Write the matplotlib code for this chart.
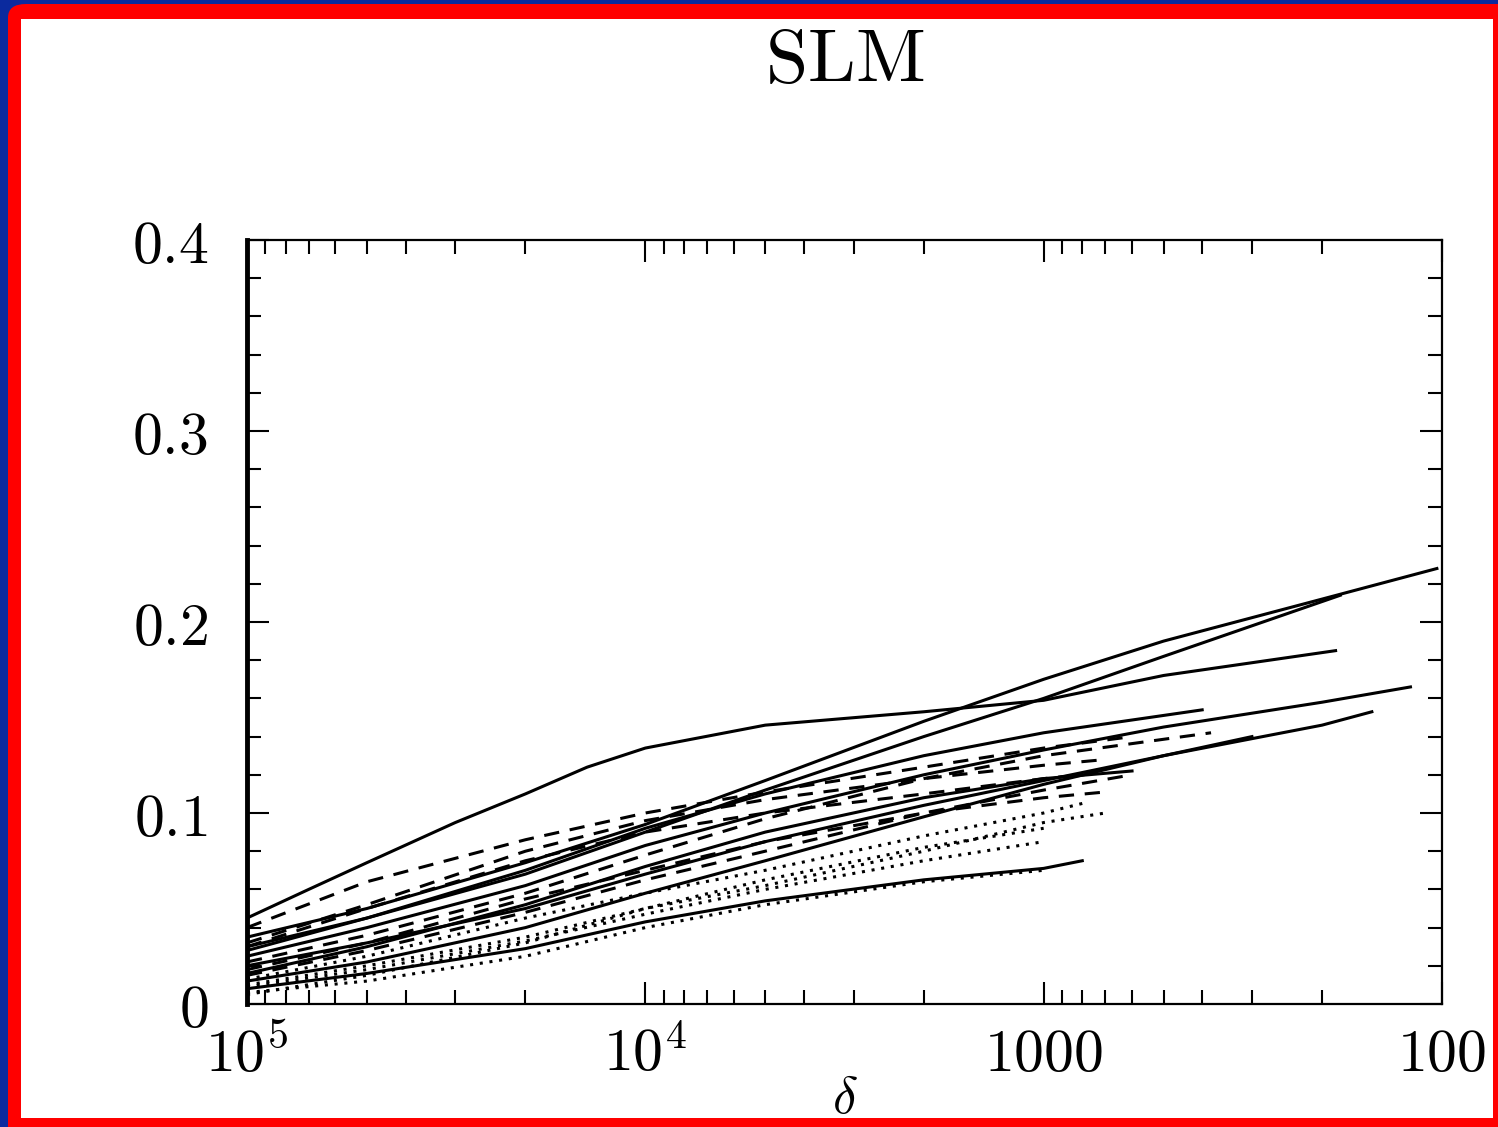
import numpy as np
import matplotlib.pyplot as plt
from matplotlib.patches import FancyBboxPatch, Rectangle

plt.rcParams['mathtext.fontset'] = 'cm'
plt.rcParams['font.family'] = ['DejaVu Serif']

# delta nodes and curve values
delta_A = [1e5, 7e4, 5e4, 3e4, 2e4, 1.4e4, 1e4, 5e3, 2e3, 1e3, 500, 185]
frac_A = [0.045, 0.060, 0.074, 0.095, 0.110, 0.124, 0.134, 0.146, 0.153, 0.159, 0.172, 0.185]

delta_B = [1e5, 5e4, 2e4, 1e4, 5e3, 2e3, 1e3, 500, 200, 103]
frac_B = [0.035, 0.050, 0.074, 0.094, 0.117, 0.148, 0.170, 0.190, 0.212, 0.228]

delta_C = [1e5, 5e4, 2e4, 1e4, 5e3, 2e3, 1e3, 500, 180]
frac_C = [0.030, 0.045, 0.068, 0.090, 0.112, 0.140, 0.160, 0.182, 0.214]

delta_D = [1e5, 5e4, 2e4, 1e4, 5e3, 2e3, 1e3, 500, 200, 120]
frac_D = [0.025, 0.040, 0.062, 0.083, 0.100, 0.120, 0.133, 0.145, 0.158, 0.166]

delta_E = [1e5, 5e4, 2e4, 1e4, 5e3, 2e3, 1e3, 500, 200, 150]
frac_E = [0.020, 0.032, 0.050, 0.068, 0.085, 0.104, 0.117, 0.130, 0.146, 0.153]

delta_F = [1e5, 5e4, 2e4, 1e4, 5e3, 2e3, 1e3, 400]
frac_F = [0.028, 0.045, 0.070, 0.092, 0.110, 0.130, 0.142, 0.154]

delta_G = [1e5, 5e4, 2e4, 1e4, 5e3, 2e3, 1e3, 380]
frac_G = [0.022, 0.036, 0.058, 0.078, 0.097, 0.118, 0.130, 0.142]

delta_H = [1e5, 5e4, 2e4, 1e4, 5e3, 2e3, 1e3, 600]
frac_H = [0.040, 0.064, 0.086, 0.100, 0.111, 0.124, 0.134, 0.140]

delta_I = [1e5, 5e4, 2e4, 1e4, 5e3, 2e3, 1e3, 800]
frac_I = [0.008, 0.016, 0.029, 0.043, 0.054, 0.065, 0.071, 0.075]

delta_J = [1e5, 5e4, 2e4, 1e4, 5e3, 2e3, 1e3, 700]
frac_J = [0.010, 0.020, 0.035, 0.050, 0.062, 0.080, 0.095, 0.100]

delta_K = [1e5, 5e4, 2e4, 1e4, 5e3, 2e3, 1e3, 800]
frac_K = [0.013, 0.025, 0.045, 0.058, 0.070, 0.088, 0.100, 0.105]

delta_L = [1e5, 5e4, 2e4, 1e4, 5e3, 2e3, 1e3, 600]
frac_L = [0.015, 0.028, 0.048, 0.065, 0.080, 0.100, 0.112, 0.120]

delta_M = [1e5, 5e4, 2e4, 1e4, 5e3, 2e3, 1e3, 700]
frac_M = [0.018, 0.032, 0.055, 0.070, 0.085, 0.100, 0.108, 0.111]

delta_N = [1e5, 5e4, 2e4, 1e4, 5e3, 2e3, 1e3, 500, 300]
frac_N = [0.012, 0.022, 0.040, 0.058, 0.075, 0.098, 0.115, 0.130, 0.140]

delta_O = [1e5, 5e4, 2e4, 1e4, 5e3, 2e3, 1e3]
frac_O = [0.006, 0.012, 0.025, 0.040, 0.052, 0.064, 0.070]

delta_P = [1e5, 5e4, 2e4, 1e4, 5e3, 2e3, 1e3, 800]
frac_P = [0.030, 0.050, 0.075, 0.090, 0.100, 0.110, 0.118, 0.120]

delta_Q = [1e5, 5e4, 2e4, 1e4, 5e3, 2e3, 1e3]
frac_Q = [0.005, 0.015, 0.032, 0.050, 0.065, 0.082, 0.092]

delta_R = [1e5, 5e4, 2e4, 1e4, 5e3, 2e3, 1e3, 600]
frac_R = [0.016, 0.030, 0.052, 0.072, 0.090, 0.108, 0.118, 0.122]

delta_S = [1e5, 5e4, 2e4, 1e4, 5e3, 2e3, 1e3, 700]
frac_S = [0.032, 0.052, 0.080, 0.096, 0.107, 0.118, 0.125, 0.128]

delta_T = [1e5, 5e4, 2e4, 1e4, 5e3, 2e3, 1e3]
frac_T = [0.009, 0.018, 0.033, 0.047, 0.060, 0.075, 0.085]

curves = [
    (delta_A, frac_A, '-'), (delta_B, frac_B, '-'), (delta_C, frac_C, '-'),
    (delta_D, frac_D, '-'), (delta_E, frac_E, '-'), (delta_F, frac_F, '-'),
    (delta_G, frac_G, '--'), (delta_H, frac_H, '--'), (delta_I, frac_I, '-'),
    (delta_J, frac_J, ':'), (delta_K, frac_K, ':'), (delta_L, frac_L, '--'),
    (delta_M, frac_M, '--'), (delta_N, frac_N, '-'), (delta_O, frac_O, ':'),
    (delta_P, frac_P, '--'), (delta_Q, frac_Q, ':'), (delta_R, frac_R, '-'),
    (delta_S, frac_S, '--'), (delta_T, frac_T, ':'),
]

x_major = [1e5, 1e4, 1e3, 1e2]
x_labels = [r'$10^5$', r'$10^4$', r'$1000$', r'$100$']
y_major = [0, 0.1, 0.2, 0.3, 0.4]
y_labels = [r'$0$', r'$0.1$', r'$0.2$', r'$0.3$', r'$0.4$']

W, H = 1498, 1127
fig = plt.figure(figsize=(W / 100, H / 100), dpi=100)
fig.patch.set_facecolor('#0b2a9e')

# red frame with white inside
frame = FancyBboxPatch((8 / W, -0.05), 1.2, (H - 4) / H + 0.05,
                       boxstyle='round,pad=0,rounding_size=0.012',
                       transform=fig.transFigure, facecolor='#ff0000',
                       edgecolor='none', zorder=-2)
fig.patches.append(frame)
inner = Rectangle((21 / W, (H - 1118) / H), (1493 - 21) / W, (1118 - 19) / H,
                  transform=fig.transFigure, facecolor='white',
                  edgecolor='none', zorder=-1)
fig.patches.append(inner)

ax = fig.add_axes([247 / W, (H - 1004) / H, (1442 - 247) / W, (1004 - 240) / H])
ax.set_zorder(2)
ax.set_facecolor('white')

for xs, ys, ls in curves:
    line, = ax.plot(xs, ys, color='black', lw=2.2, ls=ls)
    if ls == '--':
        line.set_dashes((5, 3.5))
    elif ls == ':':
        line.set_dashes((1, 2.2))

ax.set_xscale('log')
ax.set_xlim(1e5, 100)
ax.set_ylim(0, 0.4)
ax.set_xticks(x_major)
ax.set_xticklabels(x_labels)
ax.set_xticks([m * 10 ** e for e in (2, 3, 4) for m in range(2, 10)], minor=True)
ax.set_xticklabels([], minor=True)
ax.set_yticks(y_major)
ax.set_yticklabels(y_labels)
ax.set_yticks(np.arange(0, 0.401, 0.02), minor=True)

ax.tick_params(which='both', direction='in', top=True, right=True, width=1.5,
               labelsize=43, colors='black')
ax.tick_params(which='major', length=16)
ax.tick_params(which='minor', length=10)
ax.tick_params(axis='y', pad=28)
ax.tick_params(axis='x', pad=15)

for side in ['top', 'right', 'bottom']:
    ax.spines[side].set_linewidth(1.6)
ax.spines['left'].set_linewidth(3.5)

fig.text(845 / W, 1 - 82 / H, r'$\mathrm{SLM}$', ha='center', va='baseline',
         fontsize=55, zorder=3)
fig.text(845 / W, 1 - 1098 / H, r'$\delta$', ha='center', va='center',
         fontsize=38, zorder=3)

fig.savefig('out.png', dpi=100, facecolor=fig.get_facecolor())
